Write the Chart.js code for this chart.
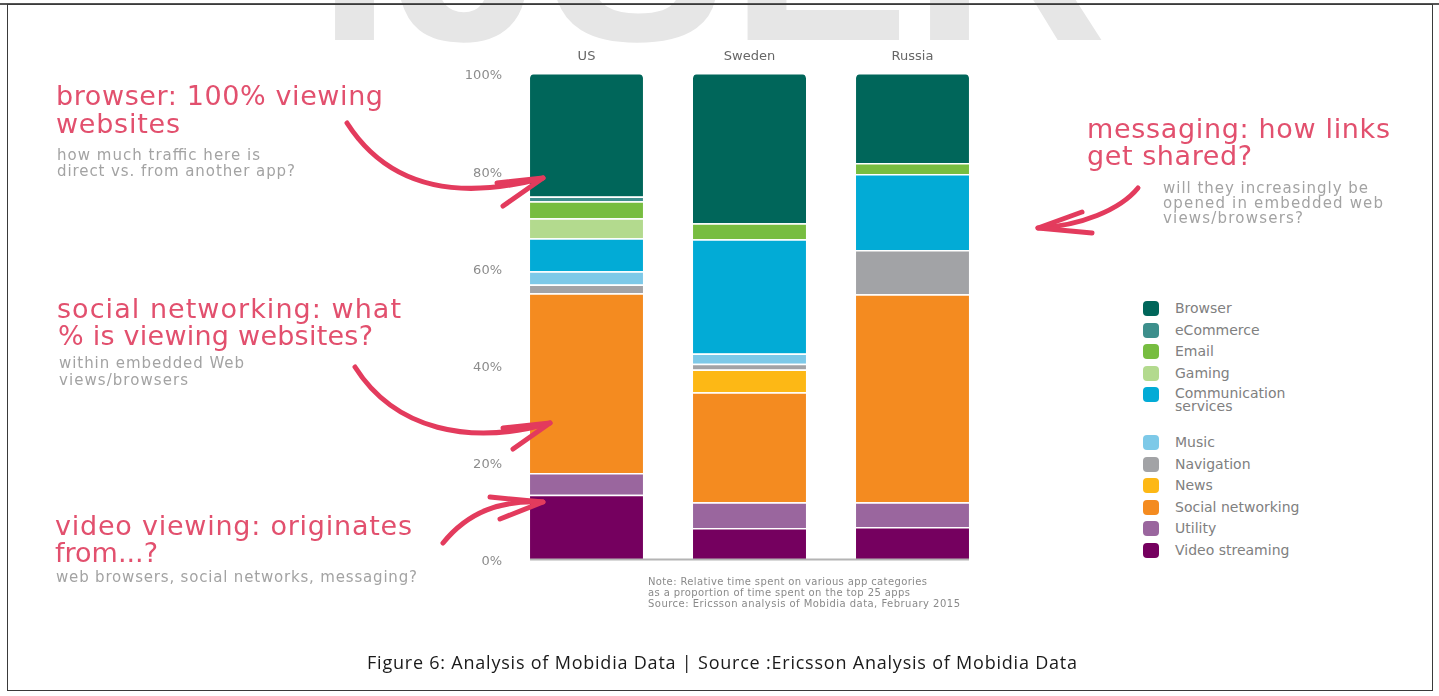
<!DOCTYPE html>
<html lang="en">
<head>
  <meta charset="UTF-8" />
  <title>Mobidia app category time share</title>
  <style>
    * { box-sizing: border-box; margin: 0; padding: 0; }
    html, body {
      width: 1439px; height: 696px;
      background: #fff; overflow: hidden;
      font-family: 'DejaVu Sans', sans-serif;
    }
    .frame {
      position: absolute;
      left: 7px; top: 4px; width: 1426px; height: 687px;
      border: 1.5px solid #3a3a3a;
    }
    .topline {
      position: absolute; left: 0; top: 3px;
      width: 1439px; height: 2px; background: #555;
    }
    #chartBox {
      position: absolute;
      left: 440px; top: 30px;
      width: 560px; height: 545px;
    }
    #overlay {
      position: absolute; left: 0; top: 0;
      width: 1439px; height: 696px;
      pointer-events: none;
    }
    /* legend rows */
    .lg-row { position: absolute; left: 1143px; display: flex; align-items: flex-start; }
    .lg-box { width: 16px; height: 15px; border-radius: 4px; flex: none; }
    .lg-text {
      margin-left: 16px; width: 130px;
      font-size: 14px; line-height: 15px; color: #808080;
    }
    .lg-text.two { line-height: 13px; }
  </style>
</head>
<body>
  <svg id="watermark" width="1439" height="60" style="position:absolute;left:0;top:0">
    <text x="317" y="40" font-family="Liberation Sans, sans-serif" font-weight="bold"
          font-size="270" fill="#e6e6e6" textLength="790" lengthAdjust="spacing">IJSER</text>
  </svg>
  <div class="topline"></div>
  <div class="frame"></div>

  <div id="chartBox"><canvas id="mobidia"></canvas></div>
  <div id="legend"></div>

  <svg id="overlay" width="1439" height="696">
    <g font-family="DejaVu Sans, sans-serif">
      <!-- browser note -->
      <text x="56" y="105" font-size="27" fill="#e2506e" textLength="327" lengthAdjust="spacing">browser: 100% viewing</text>
      <text x="56" y="133" font-size="27" fill="#e2506e" textLength="124" lengthAdjust="spacing">websites</text>
      <text x="57" y="160" font-size="15" fill="#a3a3a3" textLength="203" lengthAdjust="spacing">how much traffic here is</text>
      <text x="57" y="176" font-size="15" fill="#a3a3a3" textLength="238" lengthAdjust="spacing">direct vs. from another app?</text>

      <!-- social networking note -->
      <text x="57" y="318" font-size="27" fill="#e2506e" textLength="344" lengthAdjust="spacing">social networking: what</text>
      <text x="58" y="345" font-size="27" fill="#e2506e" textLength="315" lengthAdjust="spacing">% is viewing websites?</text>
      <text x="59" y="368" font-size="15" fill="#a3a3a3" textLength="185" lengthAdjust="spacing">within embedded Web</text>
      <text x="59" y="385" font-size="15" fill="#a3a3a3" textLength="129" lengthAdjust="spacing">views/browsers</text>

      <!-- video note -->
      <text x="55" y="535" font-size="27" fill="#e2506e" textLength="357" lengthAdjust="spacing">video viewing: originates</text>
      <text x="55" y="562" font-size="27" fill="#e2506e" textLength="103" lengthAdjust="spacing">from...?</text>
      <text x="56" y="582" font-size="15" fill="#a3a3a3" textLength="361" lengthAdjust="spacing">web browsers, social networks, messaging?</text>

      <!-- messaging note -->
      <text x="1087" y="138" font-size="27" fill="#e2506e" textLength="303" lengthAdjust="spacing">messaging: how links</text>
      <text x="1087" y="165" font-size="27" fill="#e2506e" textLength="165" lengthAdjust="spacing">get shared?</text>
      <text x="1163" y="193" font-size="15" fill="#a3a3a3" textLength="205" lengthAdjust="spacing">will they increasingly be</text>
      <text x="1163" y="208" font-size="15" fill="#a3a3a3" textLength="220" lengthAdjust="spacing">opened in embedded web</text>
      <text x="1163" y="223" font-size="15" fill="#a3a3a3" textLength="140" lengthAdjust="spacing">views/browsers?</text>

      <!-- source note under the bars -->
      <text x="648" y="585" font-size="10" fill="#8a8a8a" textLength="279" lengthAdjust="spacing">Note: Relative time spent on various app categories</text>
      <text x="648" y="596" font-size="10" fill="#8a8a8a" textLength="262" lengthAdjust="spacing">as a proportion of time spent on the top 25 apps</text>
      <text x="648" y="607" font-size="10" fill="#8a8a8a" textLength="312" lengthAdjust="spacing">Source: Ericsson analysis of Mobidia data, February 2015</text>

      <!-- figure caption -->
      <text x="367" y="669" font-family="Open Sans, sans-serif" font-size="18" fill="#1a1a1a"
            textLength="710" lengthAdjust="spacing">Figure 6: Analysis of Mobidia Data | Source :Ericsson Analysis of Mobidia Data</text>
    </g>

    <!-- hand drawn arrows -->
    <g fill="none" stroke="#e33b5d" stroke-width="5" stroke-linecap="round" stroke-linejoin="round">
      <path d="M347,123 C390,190 460,200 543,178" />
      <path d="M543,178 L497,183 M543,178 L503,206" />

      <path d="M355,367 C395,430 470,446 550,423" />
      <path d="M550,423 L503,428 M550,423 L513,449" />

      <path d="M443,543 C468,512 500,500 543,502" />
      <path d="M543,502 L490,497 M543,502 L500,519" />

      <path d="M1138,188 C1120,210 1080,226 1038,228" />
      <path d="M1038,228 L1082,212 M1038,228 L1092,233" />
    </g>
  </svg>

  <script src="https://cdn.jsdelivr.net/npm/chart.js"></script>
  <script>
    // share of time (%) per app category, listed top of stack first
    const countries = ['US', 'Sweden', 'Russia'];
    const categories = ['Browser', 'eCommerce', 'Email', 'Gaming', 'Communication services',
      'Music', 'Navigation', 'News', 'Social networking', 'Utility', 'Video streaming'];
    const usShare     = [25.4, 1.0, 3.5, 4.1, 6.8, 2.7, 1.8, 0, 37.0, 4.5, 13.2];
    const swedenShare = [30.9, 0, 3.3, 0, 23.5, 2.1, 1.2, 4.7, 22.6, 5.3, 6.4];
    const russiaShare = [18.5, 0, 2.3, 0, 15.6, 0, 9.1, 0, 42.8, 5.1, 6.6];
    const yTicks = [0, 20, 40, 60, 80, 100];
    const colors = ['#00665a', '#3d8f8c', '#77bd40', '#b3da8e', '#02abd6',
      '#7dc9e8', '#a2a3a6', '#fdb815', '#f48b20', '#9a669e', '#75005f'];

    // stack from the bottom up: Video streaming first
    const datasets = categories.map((name, i) => ({
      label: name,
      data: [usShare[i], swedenShare[i], russiaShare[i]],
      backgroundColor: colors[i],
      borderColor: 'rgba(255,255,255,0.85)',
      borderWidth: { top: 1.5, bottom: 0, left: 0, right: 0 },
      borderSkipped: false,
      borderRadius: i === 0 ? { topLeft: 5, topRight: 5, bottomLeft: 0, bottomRight: 0 } : 0
    })).reverse();

    // grey base line under the three bars
    const baseline = {
      id: 'baseline',
      afterDatasetsDraw(chart) {
        const bars = chart.getDatasetMeta(0).data;
        const first = bars[0], last = bars[bars.length - 1];
        const y = chart.scales.y.getPixelForValue(0);
        const ctx = chart.ctx;
        ctx.save();
        ctx.strokeStyle = '#b4b4b4';
        ctx.lineWidth = 2;
        ctx.beginPath();
        ctx.moveTo(first.x - first.width / 2, y + 0.5);
        ctx.lineTo(last.x + last.width / 2, y + 0.5);
        ctx.stroke();
        ctx.restore();
      }
    };

    new Chart(document.getElementById('mobidia'), {
      type: 'bar',
      data: { labels: countries, datasets },
      options: {
        responsive: true,
        maintainAspectRatio: false,
        animation: false,
        layout: { padding: { top: 5, left: 5, right: 6, bottom: 16 } },
        plugins: { legend: { display: false }, tooltip: { enabled: false } },
        datasets: { bar: { categoryPercentage: 1, barPercentage: 0.693 } },
        scales: {
          x: {
            stacked: true,
            position: 'top',
            grid: { display: false, drawTicks: false },
            border: { display: false },
            ticks: { color: '#666', padding: 9, font: { family: 'DejaVu Sans', size: 13 } },
            afterFit: s => { s.height = 38; }
          },
          y: {
            stacked: true,
            min: 0, max: 100,
            afterBuildTicks: s => { s.ticks = yTicks.map(v => ({ value: v })); },
            grid: { display: false, drawTicks: false },
            border: { display: false },
            ticks: {
              color: '#8c8c8c', padding: 3, labelOffset: 3,
              font: { family: 'DejaVu Sans', size: 13 },
              callback: v => v + '%'
            },
            afterFit: s => { s.width = 60; }
          }
        }
      },
      plugins: [baseline]
    });

    // legend on the right, same order as the stack top-down
    const legend = document.getElementById('legend');
    categories.forEach((name, i) => {
      const row = document.createElement('div');
      row.className = 'lg-row';
      row.style.top = (301 + 21.6 * i + (i >= 5 ? 26 : 0)) + 'px';
      const box = document.createElement('div');
      box.className = 'lg-box';
      box.style.background = colors[i];
      const txt = document.createElement('div');
      txt.className = 'lg-text' + (name.length > 18 ? ' two' : '');
      txt.textContent = name;
      row.appendChild(box);
      row.appendChild(txt);
      legend.appendChild(row);
    });
  </script>
</body>
</html>
